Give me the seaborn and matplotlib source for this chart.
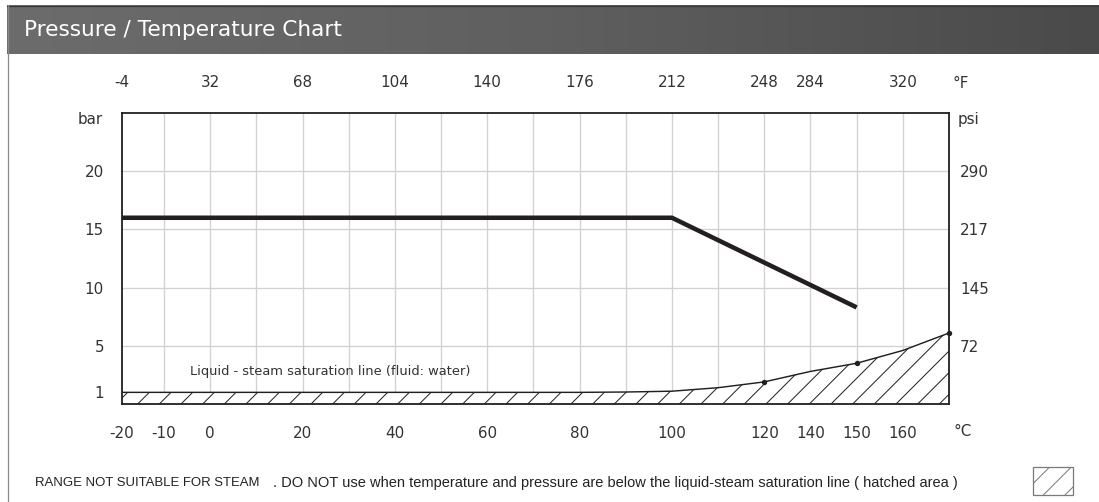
import numpy as np
import matplotlib
matplotlib.use("Agg")
import matplotlib.pyplot as plt
import seaborn as sns
from matplotlib.patches import Rectangle
from matplotlib.lines import Line2D
from matplotlib.colors import LinearSegmentedColormap

# ---------------- data ----------------
title = "Pressure / Temperature Chart"

max_temp_c = [-20, 100, 150]
max_pressure_bar = [16.0, 16.0, 8.3]

sat_temp_c = [-20, 0, 20, 40, 60, 80, 90, 100, 110, 120, 130, 140, 150, 160, 170]
sat_pressure_bar = [1.0, 1.0, 1.0, 1.0, 1.0, 1.0, 1.03, 1.1, 1.4, 1.9, 2.35, 2.8, 3.5, 4.6, 6.1]
sat_marker_temp_c = [120, 150, 170]
sat_marker_bar = [1.9, 3.5, 6.1]

celsius_ticks = [-20, -10, 0, 20, 40, 60, 80, 100, 120, 140, 150, 160]
celsius_labels = ["-20", "-10", "0", "20", "40", "60", "80", "100", "120", "140", "150", "160"]
celsius_grid = [-10, 0, 10, 20, 30, 40, 50, 60, 70, 80, 90, 100, 110, 120, 140, 150, 160]
fahrenheit_tick_c = [-20, 0, 20, 40, 60, 80, 100, 120, 140, 160]
fahrenheit_labels = ["-4", "32", "68", "104", "140", "176", "212", "248", "284", "320"]

bar_ticks = [1, 5, 10, 15, 20]
bar_labels = ["1", "5", "10", "15", "20"]
bar_grid = [5, 10, 15, 20]
psi_tick_bar = [5, 10, 15, 20]
psi_labels = ["72", "145", "217", "290"]

# non-uniform temperature axis of the original chart (°C -> grid units)
scale_knots_c = [-20, -10, 120, 140, 170]
scale_knots_u = [0.0, 0.91, 13.91, 14.91, 17.91]

note_left = "RANGE NOT SUITABLE FOR STEAM"
note_right = ". DO NOT use when temperature and pressure are below the liquid-steam saturation line ( hatched area )"
curve_label = "Liquid - steam saturation line (fluid: water)"

# ---------------- style ----------------
sns.set_style("white")
plt.rcParams["font.family"] = ["DejaVu Sans"]
plt.rcParams["hatch.linewidth"] = 0.55

DPI = 130
W, H = 1099, 502
fig = plt.figure(figsize=(W / DPI, H / DPI), dpi=DPI)
fig.patch.set_facecolor("white")

INK = "#231f20"
TXT = "#333333"
GRID = "#d2d2d2"

def fwd(x):
    return np.interp(x, scale_knots_c, scale_knots_u)

def inv(u):
    return np.interp(u, scale_knots_u, scale_knots_c)

# main axes (pixel geometry of the reference)
L, R, T, B = 122, 949, 113, 404
ax = fig.add_axes([L / W, (H - B) / H, (R - L) / W, (B - T) / H])

# hatched region below saturation line
ax.fill_between(sat_temp_c, 0, sat_pressure_bar, facecolor="white",
                edgecolor=INK, hatch="//", linewidth=0, zorder=2)
sns.lineplot(x=sat_temp_c, y=sat_pressure_bar, ax=ax, color=INK,
             linewidth=0.8, sort=False, zorder=3)
sns.scatterplot(x=sat_marker_temp_c, y=sat_marker_bar, ax=ax, color=INK,
                s=9, linewidth=0, zorder=4, clip_on=False)
# maximum operating pressure line
sns.lineplot(x=max_temp_c, y=max_pressure_bar, ax=ax, color=INK,
             linewidth=2.5, sort=False, zorder=5,
             solid_joinstyle="miter", solid_capstyle="butt")

ax.set_xscale("function", functions=(fwd, inv))
ax.set_xlim(-20, 170)
ax.set_ylim(0, 25)

ax.xaxis.remove_overlapping_locs = False
ax.yaxis.remove_overlapping_locs = False
ax.set_xticks(celsius_ticks)
ax.set_xticklabels(celsius_labels)
ax.set_xticks(celsius_grid, minor=True)
ax.set_yticks(bar_ticks)
ax.set_yticklabels(bar_labels)
ax.set_yticks(bar_grid, minor=True)
ax.grid(False, which="major")
ax.grid(True, which="minor", color=GRID, linewidth=0.75)
ax.set_axisbelow(True)
ax.tick_params(which="both", length=0)
ax.tick_params(axis="x", which="major", pad=12, labelsize=8.4, labelcolor=TXT)
ax.tick_params(axis="y", which="major", pad=10, labelsize=8.4, labelcolor=TXT)
for s in ax.spines.values():
    s.set_visible(True)
    s.set_color(INK)
    s.set_linewidth(1.0)
    s.set_zorder(6)
ax.set_xlabel("")
ax.set_ylabel("")

# top Fahrenheit axis
axt = ax.twiny()
axt.set_xscale("function", functions=(fwd, inv))
axt.set_xlim(-20, 170)
axt.set_xticks(fahrenheit_tick_c)
axt.set_xticklabels(fahrenheit_labels)
axt.tick_params(axis="x", length=0, pad=13, labelsize=8.4, labelcolor=TXT)
for s in axt.spines.values():
    s.set_visible(False)

# right psi axis
axr = ax.twinx()
axr.set_ylim(0, 25)
axr.set_yticks(psi_tick_bar)
axr.set_yticklabels(psi_labels)
axr.tick_params(axis="y", length=0, pad=6, labelsize=8.4, labelcolor=TXT)
for s in axr.spines.values():
    s.set_visible(False)

# unit labels
ax.annotate("bar", xy=(0, 24.4), xycoords=("axes fraction", "data"),
            xytext=(-19, 0), textcoords="offset pixels", ha="right", va="center",
            fontsize=8.4, color=TXT)
ax.annotate("psi", xy=(1, 24.4), xycoords=("axes fraction", "data"),
            xytext=(9, 0), textcoords="offset pixels", ha="left", va="center",
            fontsize=8.4, color=TXT)
ax.annotate("°F", xy=(1, 1), xycoords="axes fraction",
            xytext=(12, 30), textcoords="offset pixels", ha="center", va="center",
            fontsize=8.4, color=TXT)
ax.annotate("°C", xy=(1, 0), xycoords="axes fraction",
            xytext=(14, -28), textcoords="offset pixels", ha="center", va="center",
            fontsize=8.4, color=TXT)
ax.text((190 - L) / (R - L), (B - 371) / (B - T), curve_label, transform=ax.transAxes,
        ha="left", va="center", fontsize=7.2, color=TXT, zorder=6)

# title bar with gradient
axbar = fig.add_axes([7 / W, (H - 54) / H, 1 - 7 / W, 49 / H])
cmap = LinearSegmentedColormap.from_list("bar", ["#6c6c6c", "#5f5f5f", "#4a4a4a"])
axbar.imshow(np.linspace(0, 1, 256)[None, :], aspect="auto", cmap=cmap,
             extent=[0, 1, 0, 1])
axbar.set_xlim(0, 1)
axbar.set_ylim(0, 1)
axbar.axis("off")
fig.add_artist(Line2D([7 / W, 1], [(H - 5.5) / H] * 2, transform=fig.transFigure,
                      color="#3a3a3a", linewidth=0.7))
fig.text(24 / W, (H - 30) / H, title, color="white", fontsize=12,
         ha="left", va="center")

# left page border
fig.add_artist(Line2D([7.5 / W] * 2, [0, (H - 5) / H], transform=fig.transFigure,
                      color="#8a8a8a", linewidth=0.7))

# bottom note
note_font = ["Liberation Sans", "DejaVu Sans"]
fig.text(35 / W, (H - 483) / H, note_left, family=note_font, fontsize=7.3,
         color="#222222", ha="left", va="center")
fig.text(273 / W, (H - 483) / H, note_right, family=note_font, fontsize=8.1,
         color="#222222", ha="left", va="center")
fig.add_artist(Rectangle((1033 / W, (H - 495) / H), 40 / W, 28 / H,
                         transform=fig.transFigure, facecolor="white",
                         edgecolor="#7a7a7a", hatch="//", linewidth=0.7))

fig.savefig("out.png", dpi=DPI, facecolor="white")
